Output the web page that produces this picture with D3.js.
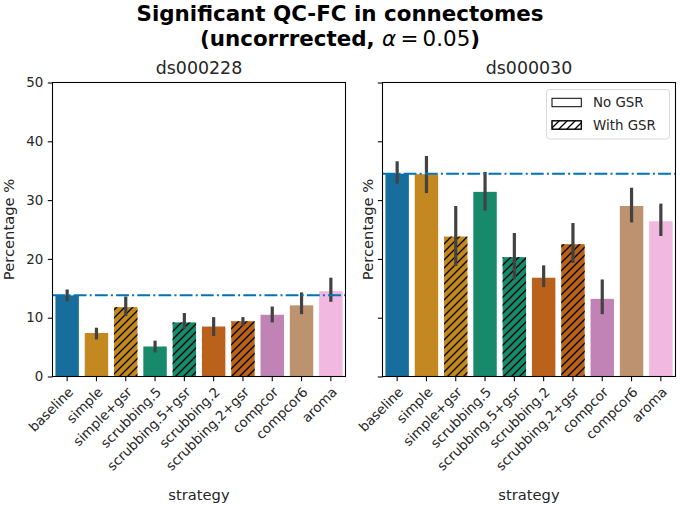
<!DOCTYPE html>
<html>
<head>
<meta charset="utf-8">
<script src="https://cdn.jsdelivr.net/npm/d3@7"></script>
<style>
html,body{margin:0;padding:0;background:#fff;}
svg{display:block;font-family:"DejaVu Sans",sans-serif;}
</style>
</head>
<body>
<svg id="chart" width="680" height="507"></svg>
<script>
const categories = ["baseline","simple","simple+gsr","scrubbing.5","scrubbing.5+gsr","scrubbing.2","scrubbing.2+gsr","compcor","compcor6","aroma"];
const withGSR = [false,false,true,false,true,false,true,false,false,false];
const barColors = ["#176d9c","#c38820","#c38820","#168a6a","#168a6a","#ba611b","#ba611b","#c182b5","#bd926e","#f1b8e0"];
const yTicks = [0,10,20,30,40,50];

const ds000228Mean = [13.8, 7.4, 11.8, 5.1, 9.2, 8.5, 9.4, 10.5, 12.1, 14.5];
const ds000228Low  = [12.8, 6.3, 10.3, 4.1, 8.1, 6.9, 8.6, 9.2, 10.6, 12.7];
const ds000228High = [14.8, 8.3, 13.6, 6.1, 10.8, 10.1, 10.1, 11.9, 14.3, 16.8];
const ds000228Baseline = 13.8;

const ds000030Mean = [34.5, 34.4, 23.8, 31.4, 20.3, 16.8, 22.5, 13.2, 29.0, 26.4];
const ds000030Low  = [32.8, 31.2, 18.8, 28.2, 16.5, 15.2, 19.3, 10.6, 26.2, 23.9];
const ds000030High = [36.6, 37.5, 29.0, 34.8, 24.4, 18.9, 26.1, 16.5, 32.1, 29.4];
const ds000030Baseline = 34.5;

const panels = [
  {title:"ds000228", mean:ds000228Mean, lo:ds000228Low, hi:ds000228High, base:ds000228Baseline, x0:52.5, x1:345.5, tickLabels:true, legend:false},
  {title:"ds000030", mean:ds000030Mean, lo:ds000030Low, hi:ds000030High, base:ds000030Baseline, x0:382.5, x1:675.5, tickLabels:false, legend:true}
];

const svg = d3.select("#chart");
const defs = svg.append("defs");
const pat = defs.append("pattern").attr("id","hatch").attr("patternUnits","userSpaceOnUse")
  .attr("width",8).attr("height",8);
pat.append("path").attr("d","M-2,2 L2,-2 M0,8 L8,0 M6,10 L10,6")
  .attr("stroke","#000").attr("stroke-width",1.3).attr("fill","none");

const yTop = 82.5, yBot = 376.5;
const y = d3.scaleLinear().domain([0,50]).range([yBot,yTop]);
const tickFont = 13.4, labelFont = 14.7;

// Suptitle
const st = svg.append("text").attr("x",340).attr("text-anchor","middle")
  .style("font-size","21.4px").style("font-weight","bold").attr("fill","#000");
st.append("tspan").attr("x",340).attr("y",21).text("Significant QC-FC in connectomes");
const l2 = svg.append("text").attr("x",340).attr("y",45.5).attr("text-anchor","middle")
  .style("font-size","21.4px").attr("fill","#000");
l2.append("tspan").style("font-weight","bold").text("(uncorrrected, ");
l2.append("tspan").style("font-style","italic").text("α");
l2.append("tspan").text("\u2009=\u20090.05");
l2.append("tspan").style("font-weight","bold").text(")");

panels.forEach(p => {
  const x = d3.scaleBand().domain(categories).range([p.x0,p.x1]).paddingInner(0.2).paddingOuter(0.1);
  const g = svg.append("g");
  const xc = c => x(c) + x.bandwidth()/2;

  // bars
  g.selectAll("rect.bar").data(categories).enter().append("rect")
    .attr("x", c => x(c)).attr("width", x.bandwidth())
    .attr("y", (c,i) => y(p.mean[i])).attr("height", (c,i) => y(0)-y(p.mean[i]))
    .attr("fill", (c,i) => barColors[i]);
  g.selectAll("rect.hatch").data(categories.filter((c,i)=>withGSR[i])).enter().append("rect")
    .attr("x", c => x(c)).attr("width", x.bandwidth())
    .attr("y", c => y(p.mean[categories.indexOf(c)]))
    .attr("height", c => y(0)-y(p.mean[categories.indexOf(c)]))
    .attr("fill","url(#hatch)");

  // error bars
  g.selectAll("line.err").data(categories).enter().append("line")
    .attr("x1", xc).attr("x2", xc)
    .attr("y1", (c,i) => y(p.lo[i])).attr("y2", (c,i) => y(p.hi[i]))
    .attr("stroke","#424242").attr("stroke-width",3.2);

  // baseline reference line
  g.append("line").attr("x1",p.x0).attr("x2",p.x1)
    .attr("y1",y(p.base)).attr("y2",y(p.base))
    .attr("stroke","#0173b2").attr("stroke-width",2)
    .attr("stroke-dasharray","12.8,3.2,2,3.2");

  // spines
  g.append("rect").attr("x",p.x0).attr("y",yTop).attr("width",p.x1-p.x0).attr("height",yBot-yTop)
    .attr("fill","none").attr("stroke","#000").attr("stroke-width",1.07);

  // y axis ticks
  const yAxis = d3.axisLeft(y).tickValues(yTicks).tickSize(4.7).tickPadding(4.5)
    .tickFormat(p.tickLabels ? d3.format("d") : "");
  const ya = svg.append("g").attr("transform",`translate(${p.x0},0)`).call(yAxis);
  ya.select(".domain").remove();
  ya.selectAll(".tick line").attr("stroke","#000").attr("stroke-width",1.07);
  ya.selectAll(".tick text").style("font-size",tickFont+"px").attr("fill","#262626")
    .style("font-family","DejaVu Sans");

  // x axis ticks
  const xAxis = d3.axisBottom(x).tickSize(4.7).tickFormat("");
  const xa = svg.append("g").attr("transform",`translate(0,${yBot})`).call(xAxis);
  xa.select(".domain").remove();
  xa.selectAll(".tick line").attr("stroke","#000").attr("stroke-width",1.07);
  xa.selectAll(".tick text").remove();
  svg.append("g").selectAll("text").data(categories).enter().append("text")
    .attr("transform", c => `translate(${xc(c)},${yBot+9.4}) rotate(-45)`)
    .attr("text-anchor","end").attr("dy","0.74em")
    .style("font-size",tickFont+"px").attr("fill","#262626")
    .text(c => c);

  // ylabel
  const ylx = p.tickLabels ? 14 : p.x0 - 9.7;
  svg.append("text").attr("transform",`translate(${ylx},${(yTop+yBot)/2}) rotate(-90)`)
    .attr("text-anchor","middle").style("font-size",labelFont+"px").attr("fill","#262626")
    .text("Percentage %");

  // xlabel
  svg.append("text").attr("x",(p.x0+p.x1)/2).attr("y",500).attr("text-anchor","middle")
    .style("font-size",labelFont+"px").attr("fill","#262626").text("strategy");

  // subplot title
  svg.append("text").attr("x",(p.x0+p.x1)/2).attr("y",74).attr("text-anchor","middle")
    .style("font-size","17.4px").attr("fill","#262626").text(p.title);

  if (p.legend) {
    const lg = svg.append("g");
    lg.append("rect").attr("x",546.5).attr("y",89.5).attr("width",123).attr("height",49.5)
      .attr("rx",3).attr("fill","#fff").attr("fill-opacity",0.8)
      .attr("stroke","#d9d9d9").attr("stroke-width",1);
    const items = [{label:"No GSR", hatch:false},{label:"With GSR", hatch:true}];
    items.forEach((it,k) => {
      const cy = 102.5 + k*22.5;
      lg.append("rect").attr("x",552).attr("y",cy-4.2).attr("width",29.3).attr("height",8.4)
        .attr("fill","#fff").attr("stroke","#000").attr("stroke-width",1);
      if (it.hatch) {
        lg.append("rect").attr("x",552).attr("y",cy-4.2).attr("width",29.3).attr("height",8.4)
          .attr("fill","url(#hatch)").attr("stroke","#000").attr("stroke-width",1);
      }
      lg.append("text").attr("x",593).attr("y",cy).attr("dy","0.36em")
        .style("font-size",tickFont+"px").attr("fill","#262626").text(it.label);
    });
  }
});
</script>
</body>
</html>
